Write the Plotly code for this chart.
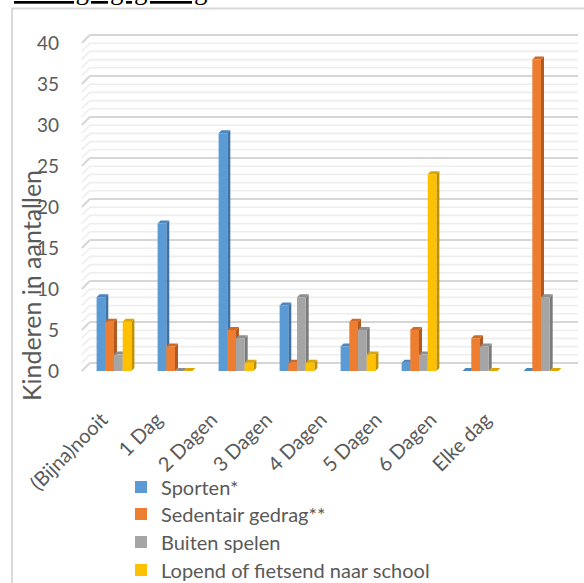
import plotly.graph_objects as go

# ---- data ----
categories = ["(Bijna)nooit", "1 Dag", "2 Dagen", "3 Dagen", "4 Dagen", "5 Dagen", "6 Dagen", "Elke dag"]
sporten = [9, 18, 29, 8, 3, 1, 0, 0]
sedentair = [6, 3, 5, 1, 6, 5, 4, 38]
buiten = [2, 0, 4, 9, 5, 2, 3, 9]
lopend = [6, 0, 1, 1, 2, 24, 0, 0]
series_names = ["Sporten*", "Sedentair gedrag**", "Buiten spelen", "Lopend of fietsend naar school"]
y_tick_values = [0, 5, 10, 15, 20, 25, 30, 35, 40]
y_title = "Kinderen in aantallen"
chart_title = "Bewegingsgedrag"

# ---- styles ----
front_colors = ["#5B9BD5", "#ED7D31", "#A5A5A5", "#FFC000"]
side_colors = ["#3F72A4", "#B05A1F", "#7B7B7B", "#BF9000"]
top_colors = ["#4A86C0", "#D06A25", "#8F8F8F", "#DDA600"]
FONT = "Lato"
TXT = "#595959"

step = 0.1426          # bar width / spacing (category units)
dx, dy = 0.049, 0.366  # 3D depth of bars
gx, gy = 0.131, 0.976  # back-wall offset of gridlines
x_range = [-0.5574, 7.6066]
x_label_range = [-0.328, 8.76]    # perspective-shifted label axis
y_range = [-0.4878, 41.22]
legend_rows_y = [0.1647, 0.1184, 0.0703, 0.0223]

series = [sporten, sedentair, buiten, lopend]
n_cat = len(categories)
idx = list(range(n_cat))

fig = go.Figure()
shapes = []

# gridlines on back wall + side wall diagonals
for v in range(0, 41):
    major = v % 5 == 0
    col = "#D6D6D6" if major else "#EDEDED"
    w = 2 if major else 1.6
    shapes.append(dict(type="line", xref="x", yref="y", layer="below",
                       x0=x_range[0] + 0.03 + gx, x1=x_range[1], y0=v + gy, y1=v + gy,
                       line=dict(color=col, width=w)))
    shapes.append(dict(type="line", xref="x", yref="y", layer="below",
                       x0=x_range[0] + 0.03, x1=x_range[0] + 0.03 + gx, y0=v, y1=v + gy,
                       line=dict(color=col, width=w)))

legend_layouts = {}
for s, vals in enumerate(series):
    off = (s - 1.5) * step
    xs = [i + off for i in idx]
    lg = "legend" if s == 0 else f"legend{s+1}"
    fig.add_trace(go.Bar(x=xs, y=vals, width=step, name=series_names[s], legend=lg,
                         marker=dict(color=front_colors[s], line=dict(width=0))))
    legend_layouts[lg] = dict(xref="container", yref="container", x=0.2072, y=legend_rows_y[s],
                              xanchor="left", yanchor="middle", orientation="v",
                              font=dict(family=FONT, size=20, color=TXT),
                              bgcolor="rgba(0,0,0,0)", itemclick=False)
    for x, v in zip(xs, vals):
        xl, xr = x - step / 2, x + step / 2
        # right side face
        shapes.append(dict(type="path", xref="x", yref="y", layer="below",
                           path=f"M{xr},0 L{xr+dx},{dy} L{xr+dx},{v+dy} L{xr},{v} Z",
                           fillcolor=side_colors[s], line=dict(width=0)))
        # top face
        shapes.append(dict(type="path", xref="x", yref="y", layer="below",
                           path=f"M{xl},{v} L{xl+dx},{v+dy} L{xr+dx},{v+dy} L{xr},{v} Z",
                           fillcolor=top_colors[s], line=dict(width=0)))

# invisible trace carrying the category label axis
fig.add_trace(go.Scatter(x=idx, y=[None] * n_cat, xaxis="x2", yaxis="y", mode="markers",
                         showlegend=False, hoverinfo="skip"))

# outer chart frame (left and top border)
shapes.append(dict(type="rect", xref="paper", yref="paper", layer="below",
                   x0=-0.1365, x1=1.2, y0=-0.8, y1=1.0716,
                   line=dict(color="#D9D9D9", width=2), fillcolor="rgba(0,0,0,0)"))

fig.update_layout(
    width=584, height=583,
    margin=dict(l=80, r=6, t=33, b=208, pad=0, autoexpand=False),
    paper_bgcolor="white", plot_bgcolor="white",
    barmode="overlay",
    shapes=shapes,
    font=dict(family=FONT, size=19, color=TXT),
    xaxis=dict(range=x_range, showticklabels=False, showgrid=False, zeroline=False,
               showline=False, ticks="", automargin=False),
    xaxis2=dict(range=x_label_range, overlaying="x", anchor="y", side="bottom",
                tickmode="array", tickvals=idx, ticktext=categories,
                tickangle=-45, showgrid=False, zeroline=False, showline=False, ticks="",
                automargin=False,
                tickfont=dict(family=FONT, size=20, color=TXT), ticklabelstandoff=28,
                ticklabelshift=4),
    yaxis=dict(range=y_range, tickmode="array", tickvals=y_tick_values,
               showgrid=False, zeroline=False, showline=False, ticks="",
               automargin=False,
               tickfont=dict(family=FONT, size=19, color=TXT), ticklabelstandoff=20),
    showlegend=True,
    annotations=[
        dict(text=y_title, xref="paper", yref="paper", x=-0.097, y=-0.0816,
             xanchor="center", yanchor="bottom", textangle=-90, showarrow=False,
             font=dict(family=FONT, size=25, color=TXT)),
        dict(text=f"<u>{chart_title}</u>", xref="paper", yref="paper", x=-0.1365, y=1.077,
             xanchor="left", yanchor="bottom", showarrow=False,
             font=dict(family="Liberation Serif", size=27, color="black")),
    ],
)
fig.update_layout(**legend_layouts)

fig.write_html("out.html")
